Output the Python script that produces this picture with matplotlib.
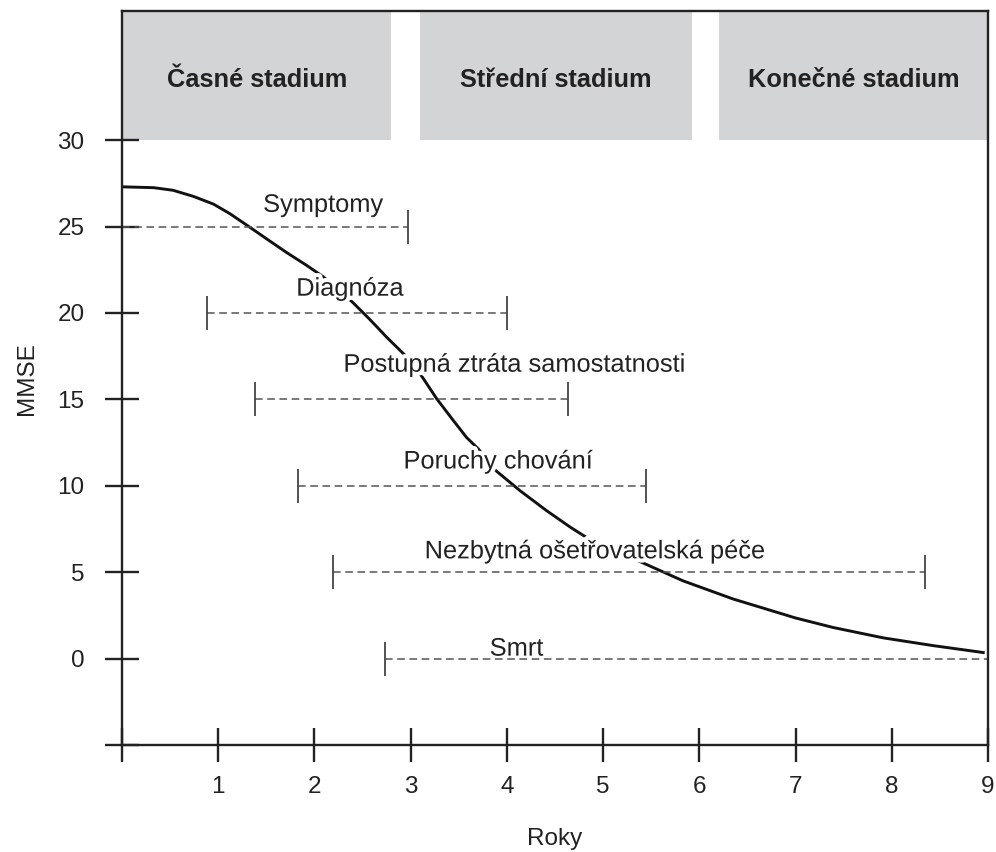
import matplotlib.pyplot as plt
from matplotlib import patheffects as pe

plt.rcParams['font.family'] = ['Liberation Sans', 'DejaVu Sans']

# MMSE curve
roky = [0, 0.33, 0.53, 0.74, 0.95, 1.12, 1.30, 1.50, 1.71, 1.92, 2.09, 2.40, 2.58,
        2.75, 2.96, 3.12, 3.27, 3.44, 3.58, 3.70, 3.88, 4.14, 4.41, 4.66, 4.83,
        5.28, 5.83, 6.35, 7.0, 7.39, 7.91, 8.43, 8.95]
mmse = [27.3, 27.25, 27.1, 26.75, 26.3, 25.75, 25.07, 24.3, 23.5, 22.75, 22.1, 20.6, 19.6,
        18.6, 17.45, 16.3, 15.04, 13.8, 12.8, 12.15, 10.9, 9.7, 8.57, 7.6, 7.0,
        5.87, 4.5, 3.45, 2.35, 1.8, 1.2, 0.75, 0.35]

# stages (grey boxes above 30)
stadia = ['Časné stadium', 'Střední stadium', 'Konečné stadium']
stadia_od = [0, 3.1, 6.2]
stadia_do = [2.8, 5.92, 9]

# ranges (dashed lines)
udalosti = ['Symptomy', 'Diagnóza', 'Postupná ztráta samostatnosti',
            'Poruchy chování', 'Nezbytná ošetřovatelská péče', 'Smrt']
udalosti_y = [25, 20, 15, 10, 5, 0]
udalosti_od = [0, 0.88, 1.38, 1.83, 2.19, 2.73]
udalosti_do = [2.97, 4.0, 4.63, 5.45, 8.35, 9.0]
popisky_x = [2.09, 2.37, 4.08, 3.91, 4.92, 4.1]
popisky_y = [25.85, 21.0, 16.6, 11.0, 5.8, 0.17]

ymax = 37.45

fig = plt.figure(figsize=(9.96, 8.52), dpi=100)
ax = fig.add_axes([0.1225, 0.1256, 0.8695, 0.861])

for nazev, x0, x1 in zip(stadia, stadia_od, stadia_do):
    ax.fill_between([x0, x1], 30, ymax, color='#d3d4d6', lw=0, zorder=1)
    ax.text((x0 + x1) / 2, 33.5, nazev, ha='center', va='center',
            fontsize=18.3, fontweight='bold', color='#222222', zorder=2)

ax.plot(roky, mmse, color='#111111', lw=2.1, zorder=2, solid_joinstyle='round')

for nazev, y, x0, x1, tx, ty in zip(udalosti, udalosti_y, udalosti_od, udalosti_do,
                                    popisky_x, popisky_y):
    ax.plot([x0, x1], [y, y], color='#555555', lw=1.1, dashes=(5, 3), zorder=4)
    ax.plot([x0, x1], [y, y], ls='none', marker='|', ms=24, mew=1.3,
            color='#444444', zorder=4, clip_on=False)
    ax.text(tx, ty, nazev, ha='center', va='baseline', fontsize=18.3, color='#222222',
            zorder=3, path_effects=[pe.withStroke(linewidth=6, foreground='white')])

ax.set_xlim(0, 9)
ax.set_ylim(-5, ymax)
ax.set_xticks(range(0, 10))
ax.set_xticklabels([''] + [str(i) for i in range(1, 10)])
ax.set_yticks(range(-5, 31, 5))
ax.set_yticklabels([''] + [str(i) for i in range(0, 31, 5)])

for s in ax.spines.values():
    s.set_linewidth(1.7)
    s.set_color('#222222')
    s.set_zorder(5)

ax.tick_params(axis='both', direction='inout', length=24, width=1.7,
               color='#222222', labelsize=17.5, labelcolor='#222222')
ax.tick_params(axis='x', pad=10)
ax.tick_params(axis='y', pad=15)

ax.set_xlabel('Roky', fontsize=17.5, color='#222222', labelpad=22)
ax.set_ylabel('MMSE', fontsize=17.5, color='#222222', labelpad=14)

fig.savefig('out.png', dpi=100)
